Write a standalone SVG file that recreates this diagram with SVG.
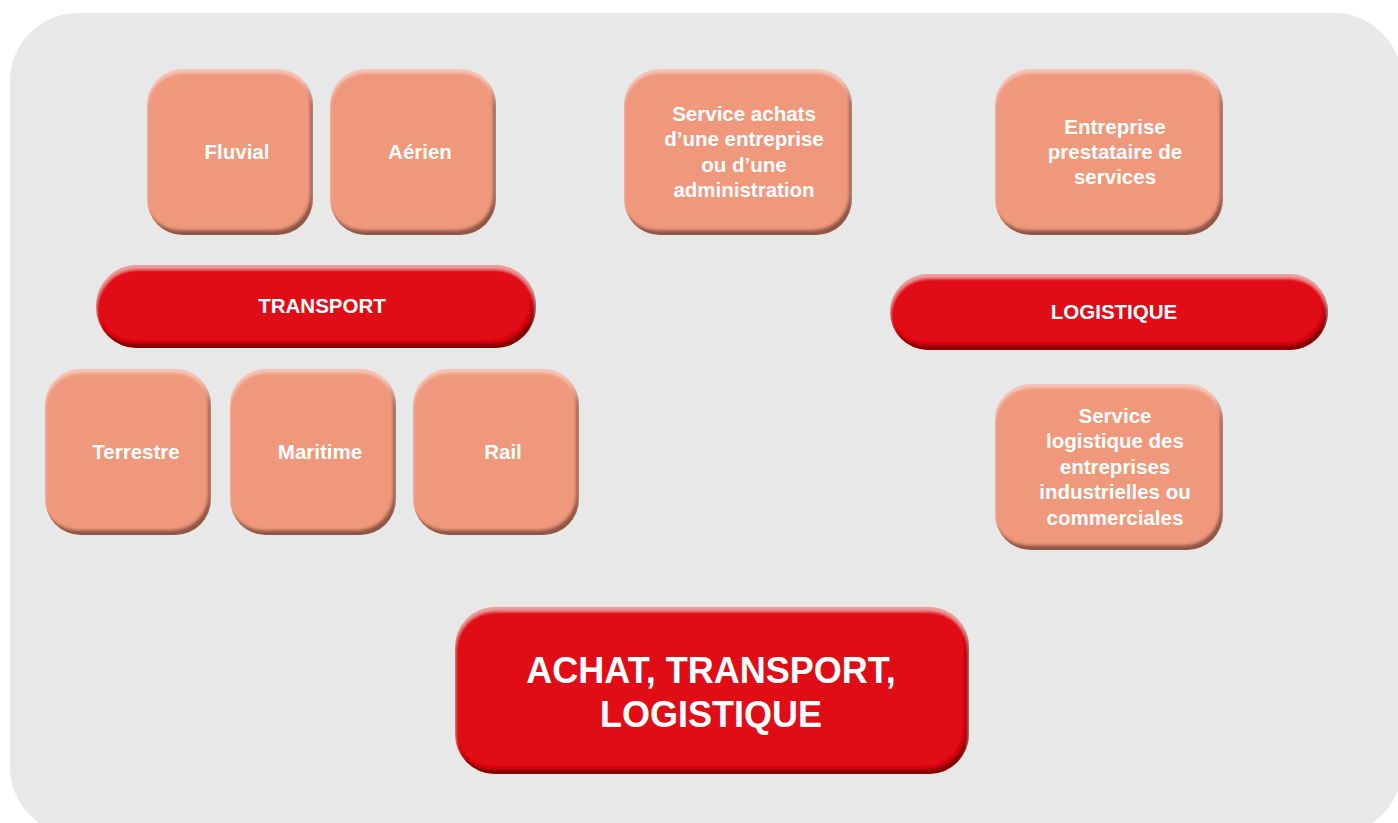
<svg xmlns="http://www.w3.org/2000/svg" width="1398" height="823" viewBox="0 0 1398 823">
<defs>
<filter id="bevel" x="-10%" y="-10%" width="120%" height="120%">
 <feGaussianBlur in="SourceAlpha" stdDeviation="1.6" result="b"/>
 <feOffset in="b" dx="-3" dy="-5" result="o1"/>
 <feComposite in="SourceAlpha" in2="o1" operator="out" result="in1"/>
 <feFlood flood-color="#2a0800" flood-opacity="0.7"/>
 <feComposite in2="in1" operator="in" result="shadow"/>
 <feOffset in="b" dx="0" dy="4" result="o2"/>
 <feComposite in="SourceAlpha" in2="o2" operator="out" result="in2"/>
 <feFlood flood-color="#ffffff" flood-opacity="0.35"/>
 <feComposite in2="in2" operator="in" result="hl"/>
 <feMerge><feMergeNode in="SourceGraphic"/><feMergeNode in="shadow"/><feMergeNode in="hl"/></feMerge>
</filter>
</defs>
<style>
.sq{fill:#f0987c;filter:url(#bevel)}
.rd{fill:#e00816;filter:url(#bevel)}
text{font-family:"Liberation Sans",Arial,sans-serif;font-weight:bold;fill:#fff;text-anchor:middle}
.s{font-size:20.5px}
.b{font-size:36px}
</style>
<rect x="10" y="13" width="1392" height="822" rx="68" fill="#e8e8e8"/>
<g id="fluvial"><rect class="sq" x="147" y="69" width="166" height="166" rx="36"/><text class="s" x="237" y="159">Fluvial</text></g>
<g id="aerien"><rect class="sq" x="330" y="69" width="166" height="166" rx="36"/><text class="s" x="420" y="159">Aérien</text></g>
<g id="service-achats"><rect class="sq" x="624" y="69" width="228" height="166" rx="36"/><text class="s" x="744"><tspan x="744" y="121">Service achats</tspan><tspan x="744" y="146">d’une entreprise</tspan><tspan x="744" y="172">ou d’une</tspan><tspan x="744" y="197">administration</tspan></text></g>
<g id="entreprise"><rect class="sq" x="995" y="69" width="228" height="166" rx="36"/><text class="s" x="1115"><tspan x="1115" y="134">Entreprise</tspan><tspan x="1115" y="159">prestataire de</tspan><tspan x="1115" y="184">services</tspan></text></g>
<g id="transport"><rect class="rd" x="96" y="265" width="440" height="83" rx="41"/><text class="s" x="322" y="313">TRANSPORT</text></g>
<g id="logistique"><rect class="rd" x="890" y="274" width="438" height="76" rx="38"/><text class="s" x="1114" y="319">LOGISTIQUE</text></g>
<g id="terrestre"><rect class="sq" x="45" y="369" width="166" height="166" rx="36"/><text class="s" x="136" y="459">Terrestre</text></g>
<g id="maritime"><rect class="sq" x="230" y="369" width="166" height="166" rx="36"/><text class="s" x="320" y="459">Maritime</text></g>
<g id="rail"><rect class="sq" x="413" y="369" width="166" height="166" rx="36"/><text class="s" x="503" y="459">Rail</text></g>
<g id="service-logistique"><rect class="sq" x="995" y="384" width="228" height="166" rx="36"/><text class="s" x="1115"><tspan x="1115" y="423">Service</tspan><tspan x="1115" y="448">logistique des</tspan><tspan x="1115" y="474">entreprises</tspan><tspan x="1115" y="499">industrielles ou</tspan><tspan x="1115" y="525">commerciales</tspan></text></g>
<g id="achat"><rect class="rd" x="455" y="607" width="514" height="167" rx="40"/><text class="b" x="711"><tspan x="711" y="683">ACHAT, TRANSPORT,</tspan><tspan x="711" y="727">LOGISTIQUE</tspan></text></g>
<g id="connectors"></g>
</svg>
